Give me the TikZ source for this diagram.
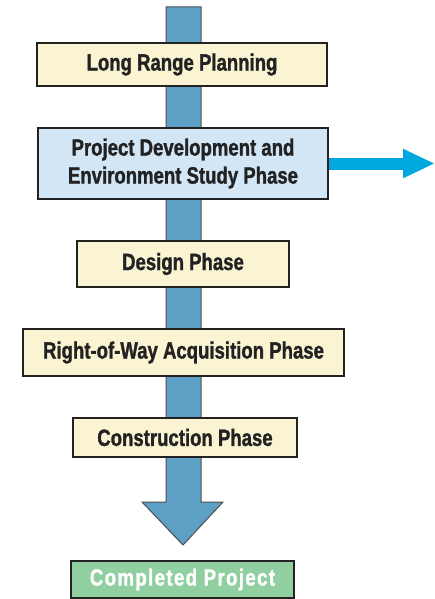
\documentclass[tikz,border=0pt]{standalone}
\usepackage{fontspec}
\setmainfont[FakeStretch=0.79,BoldFeatures={FakeBold=1.3}]{Liberation Sans}
\usetikzlibrary{arrows.meta}
\definecolor{cream}{HTML}{FAF4D2}
\definecolor{paleblue}{HTML}{D3E6F6}
\definecolor{shaft}{HTML}{5E9FC5}
\definecolor{cyanarrow}{HTML}{00A8E0}
\definecolor{done}{HTML}{90D0A0}
\definecolor{edge}{HTML}{222222}
\begin{document}
\begin{tikzpicture}[x=1pt,y=-1pt,
  phase/.style={draw=edge,line width=2pt,fill=cream,inner sep=0pt,
    font=\bfseries\fontsize{23.5}{28}\selectfont,text=edge,align=center},
  phasebox/.style 2 args={phase,minimum width=#1pt,minimum height=#2pt}]
\useasboundingbox (0,0) rectangle (435,599);
% backbone arrow
\draw[draw=edge!80,line width=1pt,fill=shaft,line join=miter]
  (166,7) -- (201,7) -- (201,502) -- (223,502) -- (183,545) -- (142,502) -- (166,502) -- cycle;
% phases
\node[phasebox={290}{43}] (lrp) at (182,64.5) {Long Range Planning};
\node[phasebox={290}{71},fill=paleblue] (pd) at (183,163.5) {Project Development and\\Environment Study Phase};
\node[phasebox={212}{46}] (des) at (183,264) {Design Phase};
\node[phasebox={321}{47}] (row) at (183.5,352.5) {Right-of-Way Acquisition Phase};
\node[phasebox={224}{39}] (con) at (185,437.5) {Construction Phase};
\node[phasebox={223}{37},fill=done,text=white] (cp) at (182.5,579.5) {\addfontfeature{LetterSpace=6}Completed Project};
% side arrow
\coordinate (out) at (435,163.5);
\draw[cyanarrow,line width=12pt,-{Triangle[width=27pt,length=32pt]}] (pd.east) -- (out);
\end{tikzpicture}
\end{document}
